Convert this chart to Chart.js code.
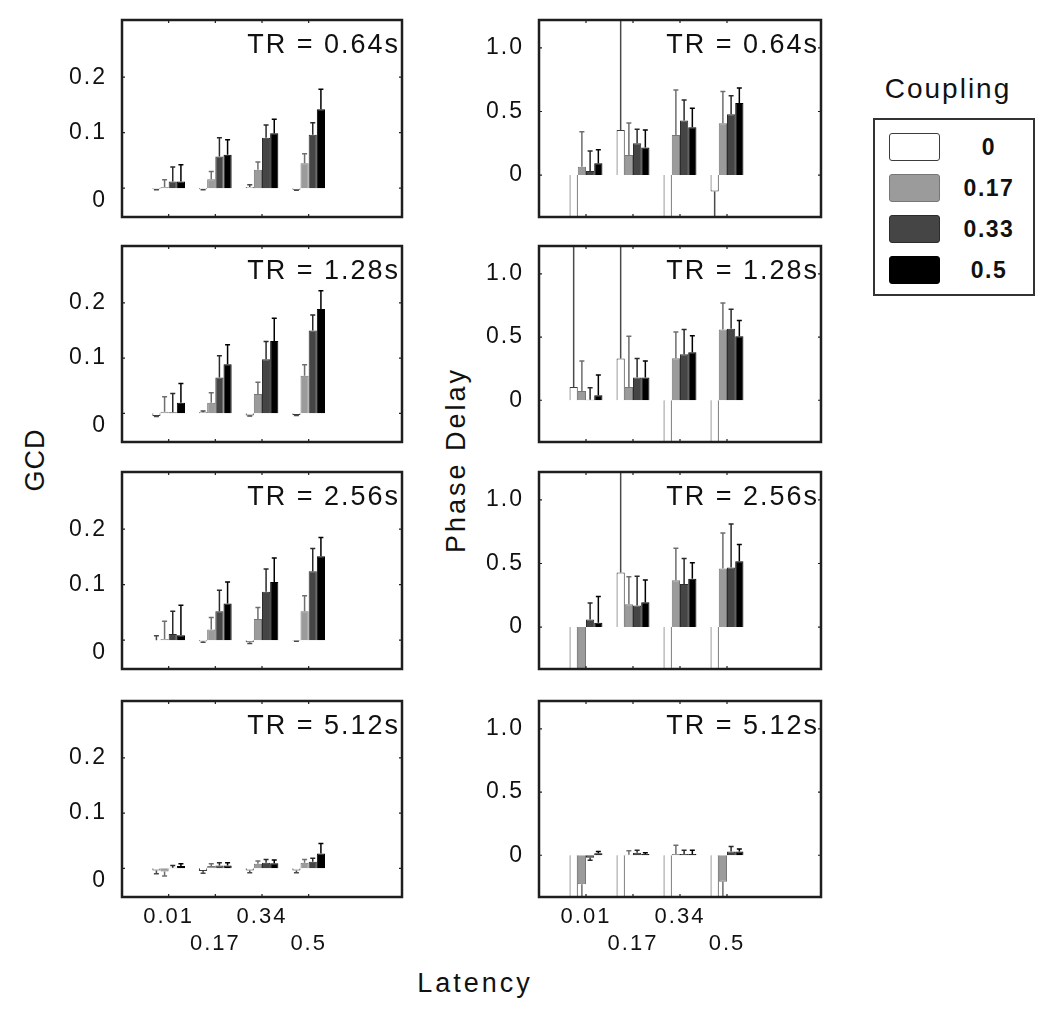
<!DOCTYPE html>
<html>
<head>
<meta charset="utf-8">
<script src="https://cdn.jsdelivr.net/npm/chart.js@4.4.0/dist/chart.umd.min.js"></script>
<style>
  body { margin: 0; background: #fff; width: 1050px; height: 1013px; position: relative; overflow: hidden;
         font-family: "Liberation Sans", Arial, sans-serif; color: #111; }
  canvas { position: absolute; }
  .axtitle { position: absolute; font-size: 27px; white-space: nowrap; }
  .rot { transform: translate(-50%, -50%) rotate(-90deg); }
  #legendTitle { position: absolute; left: 948px; top: 89px; transform: translate(-50%, -50%); font-size: 28px; letter-spacing: 2px; }
  #legendBox { position: absolute; left: 873px; top: 118px; width: 158px; height: 174px; border: 2px solid #333; }
  .lgRow { position: absolute; left: 14px; height: 28px; width: 140px; }
  .lgSw { position: absolute; left: 0; top: 0; width: 49px; height: 26px; border: 1.5px solid #444; border-radius: 3px; }
  .lgTxt { position: absolute; left: 58px; width: 84px; top: 0; line-height: 28px; text-align: center; font-size: 23px; font-weight: bold; letter-spacing: 1.5px; }
</style>
</head>
<body>
<div class="axtitle rot" style="left:35px; top:460px; letter-spacing:1px;">GCD</div>
<div class="axtitle rot" style="left:456px; top:460px; letter-spacing:3px;">Phase Delay</div>
<div class="axtitle" style="left:475px; top:983px; transform: translate(-50%, -50%); letter-spacing:3px;">Latency</div>
<div id="legendTitle">Coupling</div>
<div id="legendBox"></div>

<script>
var latencyLabels = ['0.01', '0.17', '0.34', '0.5'];
var couplingLabels = ['0', '0.17', '0.33', '0.5'];
var couplingColors = ['#ffffff', '#9b9b9b', '#454545', '#000000'];
var couplingBorders = ['#3c3c3c', '#777777', '#2c2c2c', '#000000'];
var errorColors = ['#4a4a4a', '#6e6e6e', '#2a2a2a', '#000000'];
var trLabels = ['TR = 0.64s', 'TR = 1.28s', 'TR = 2.56s', 'TR = 5.12s'];
var gcdTicks = [0, 0.1, 0.2];
var phaseTicks = [0, 0.5, 1.0];

// rows of each array = coupling 0, 0.17, 0.33, 0.5 ; columns = latency 0.01 .. 0.5
var gcd064 = [[-0.002, -0.002, 0.002, -0.003], [0.002, 0.016, 0.033, 0.045], [0.012, 0.057, 0.091, 0.096], [0.012, 0.06, 0.099, 0.142]];
var gcd064Err = [[0.001, 0.001, 0.004, 0.001], [0.013, 0.014, 0.014, 0.017], [0.026, 0.034, 0.023, 0.022], [0.03, 0.027, 0.025, 0.036]];
var gcd128 = [[-0.005, 0.002, -0.004, -0.003], [0.003, 0.019, 0.035, 0.068], [0.002, 0.065, 0.098, 0.15], [0.019, 0.089, 0.131, 0.189]];
var gcd128Err = [[0.001, 0.002, 0.001, 0.001], [0.027, 0.018, 0.021, 0.02], [0.034, 0.039, 0.032, 0.028], [0.035, 0.035, 0.041, 0.033]];
var gcd256 = [[0.0, -0.002, -0.004, -0.001], [0.002, 0.019, 0.038, 0.052], [0.011, 0.052, 0.087, 0.124], [0.009, 0.066, 0.105, 0.151]];
var gcd256Err = [[0.008, 0.002, 0.002, 0.001], [0.032, 0.022, 0.021, 0.028], [0.041, 0.038, 0.041, 0.041], [0.054, 0.039, 0.043, 0.034]];
var gcd512 = [[-0.004, -0.005, -0.004, -0.004], [-0.006, 0.004, 0.008, 0.01], [0.001, 0.005, 0.01, 0.012], [0.004, 0.005, 0.009, 0.027]];
var gcd512Err = [[0.006, 0.004, 0.004, 0.004], [0.008, 0.004, 0.005, 0.006], [0.004, 0.005, 0.006, 0.006], [0.004, 0.005, 0.006, 0.018]];

var phase064 = [[-0.8, 0.355, -0.8, -0.13], [0.066, 0.158, 0.316, 0.408], [0.032, 0.25, 0.43, 0.479], [0.092, 0.216, 0.376, 0.566]];
var phase064Err = [[0, 1.5, 0, 0.5], [0.274, 0.252, 0.354, 0.25], [0.158, 0.11, 0.16, 0.145], [0.108, 0.139, 0.15, 0.118]];
var phase128 = [[0.104, 0.33, -0.8, -0.8], [0.073, 0.104, 0.332, 0.56], [0.005, 0.18, 0.364, 0.566], [0.04, 0.18, 0.38, 0.506]];
var phase128Err = [[1.5, 1.5, 0, 0], [0.237, 0.402, 0.208, 0.21], [0.095, 0.15, 0.196, 0.154], [0.16, 0.13, 0.13, 0.124]];
var phase256 = [[-0.8, 0.43, -0.8, -0.8], [-0.8, 0.18, 0.369, 0.46], [0.06, 0.17, 0.338, 0.468], [0.034, 0.195, 0.38, 0.517]];
var phase256Err = [[0, 1.5, 0, 0], [0, 0.215, 0.251, 0.28], [0.13, 0.23, 0.202, 0.342], [0.206, 0.175, 0.126, 0.133]];
var phase512 = [[-0.8, -0.8, -0.8, -0.8], [-0.23, 0.005, 0.01, -0.21], [-0.02, 0.02, 0.01, 0.03], [0.015, 0.01, 0.01, 0.03]];
var phase512Err = [[0, 0, 0, 0], [0.15, 0.03, 0.07, 0.15], [0.02, 0.02, 0.03, 0.04], [0.015, 0.01, 0.03, 0.02]];

var gcdPanels = [[gcd064, gcd064Err], [gcd128, gcd128Err], [gcd256, gcd256Err], [gcd512, gcd512Err]];
var phasePanels = [[phase064, phase064Err], [phase128, phase128Err], [phase256, phase256Err], [phase512, phase512Err]];

var rowTop = [20, 246, 472, 701];
var rowBottom = [217, 442, 669, 897];
var font = '"Liberation Sans", Arial, sans-serif';

// legend
var box = document.getElementById('legendBox');
couplingLabels.forEach(function (lab, i) {
  var row = document.createElement('div');
  row.className = 'lgRow';
  row.style.top = (13 + i * 41) + 'px';
  row.innerHTML = '<div class="lgSw" style="background:' + couplingColors[i] + ';border-color:' + couplingBorders[i] + '"></div>' +
                  '<div class="lgTxt">' + lab + '</div>';
  box.appendChild(row);
});

var wideText = {
  id: 'wideText',
  beforeDraw: function (chart) { chart.ctx.letterSpacing = '2px'; }
};

var errorBars = {
  id: 'errorBars',
  afterDatasetsDraw: function (chart) {
    var ctx = chart.ctx, a = chart.chartArea, ys = chart.scales.y;
    ctx.save();
    ctx.beginPath();
    ctx.rect(a.left, a.top, a.right - a.left, a.bottom - a.top);
    ctx.clip();
    chart.data.datasets.forEach(function (ds, i) {
      chart.getDatasetMeta(i).data.forEach(function (bar, j) {
        var v = ds.data[j], e = ds.errors[j];
        if (v === null || !e) return;
        var dir = v < 0 ? -1 : 1;
        var y0 = ys.getPixelForValue(v), y1 = ys.getPixelForValue(v + dir * e);
        ctx.strokeStyle = ds.errorColor;
        ctx.lineWidth = 1.5;
        ctx.beginPath();
        ctx.moveTo(bar.x, y0); ctx.lineTo(bar.x, y1);
        ctx.moveTo(bar.x - 2.5, y1); ctx.lineTo(bar.x + 2.5, y1);
        ctx.stroke();
      });
    });
    ctx.restore();
  }
};

var frame = {
  id: 'frame',
  afterDraw: function (chart) {
    var ctx = chart.ctx, a = chart.chartArea, xs = chart.scales.x, ys = chart.scales.y;
    ctx.save();
    ctx.strokeStyle = '#1e1e1e';
    ctx.lineWidth = 1.2;
    ctx.beginPath();
    ys.ticks.forEach(function (t) {
      var py = ys.getPixelForValue(t.value);
      ctx.moveTo(a.left, py); ctx.lineTo(a.left + 3, py);
      ctx.moveTo(a.right, py); ctx.lineTo(a.right - 3, py);
    });
    latencyLabels.forEach(function (l, k) {
      var px = xs.getPixelForValue(k + 1);
      ctx.moveTo(px, a.top); ctx.lineTo(px, a.top + 3);
      ctx.moveTo(px, a.bottom); ctx.lineTo(px, a.bottom - 3);
    });
    ctx.stroke();
    ctx.lineWidth = 2.5;
    ctx.strokeRect(a.left, a.top, a.right - a.left, a.bottom - a.top);
    ctx.fillStyle = '#111';
    ctx.font = '27px ' + font;
    ctx.letterSpacing = '2px';
    ctx.textAlign = 'right';
    ctx.textBaseline = 'middle';
    ctx.fillText(chart.options.plugins.frame.label, a.right - 2, a.top + 26);
    ctx.restore();
  }
};

function makePanel(col, row) {
  var isBottom = row === 3;
  var panel = col === 0 ? gcdPanels[row] : phasePanels[row];
  var left = col === 0 ? 20 : 437;
  var width = col === 0 ? 390 : 392;
  var top = rowTop[row] - 4;
  var height = rowBottom[row] - rowTop[row] + 4 + (isBottom ? 70 : 4);
  var cv = document.createElement('canvas');
  cv.style.left = left + 'px';
  cv.style.top = top + 'px';
  cv.style.width = width + 'px';
  cv.style.height = height + 'px';
  cv.width = width;
  cv.height = height;
  document.body.appendChild(cv);

  var cats = [''].concat(latencyLabels, ['', '']);
  var datasets = couplingLabels.map(function (lab, i) {
    return {
      label: lab,
      data: [null].concat(panel[0][i], [null, null]),
      errors: [null].concat(panel[1][i], [null, null]),
      errorColor: errorColors[i],
      backgroundColor: couplingColors[i],
      borderColor: couplingBorders[i],
      borderWidth: 1,
      categoryPercentage: 0.7,
      barPercentage: 1.0
    };
  });
  var ticksList = col === 0 ? gcdTicks : phaseTicks;

  new Chart(cv, {
    type: 'bar',
    data: { labels: cats, datasets: datasets },
    options: {
      responsive: false,
      animation: false,
      devicePixelRatio: 1,
      layout: { autoPadding: false, padding: { left: 0, right: 8, top: 4, bottom: isBottom ? 0 : 4 } },
      plugins: { legend: { display: false }, tooltip: { enabled: false }, frame: { label: trLabels[row] } },
      scales: {
        x: {
          offset: false,
          display: isBottom,
          grid: { display: false, drawTicks: false },
          border: { display: false },
          afterFit: function (s) {
            s.height = isBottom ? 70 : 0;
            s.paddingLeft = 0; s.paddingRight = 0; s.paddingTop = 0; s.paddingBottom = 0;
          },
          ticks: {
            autoSkip: false, maxRotation: 0, minRotation: 0, padding: 6, color: '#111',
            font: { family: font, size: 22, lineHeight: 1.25 },
            callback: function (v, idx) {
              var l = cats[idx];
              return (idx === 2 || idx === 4) ? ['', l] : l;
            }
          }
        },
        y: {
          min: col === 0 ? -0.052 : -0.33,
          max: col === 0 ? 0.303 : 1.22,
          afterBuildTicks: function (s) { s.ticks = ticksList.map(function (v) { return { value: v }; }); },
          afterFit: function (s) {
            s.width = 102;
            s.paddingLeft = 0; s.paddingRight = 0; s.paddingTop = 0; s.paddingBottom = 0;
          },
          grid: { display: false, drawTicks: false },
          border: { display: false },
          ticks: {
            padding: 15, color: '#111',
            font: { family: font, size: 23, lineHeight: 1.1 },
            callback: function (v) {
              if (col === 0) return v === 0 ? ['', '0'] : v.toFixed(1);
              return v === 0 ? '0' : v.toFixed(1);
            }
          }
        }
      }
    },
    plugins: [wideText, errorBars, frame]
  });
}

for (var r = 0; r < 4; r++) {
  makePanel(0, r);
  makePanel(1, r);
}
</script>
</body>
</html>
